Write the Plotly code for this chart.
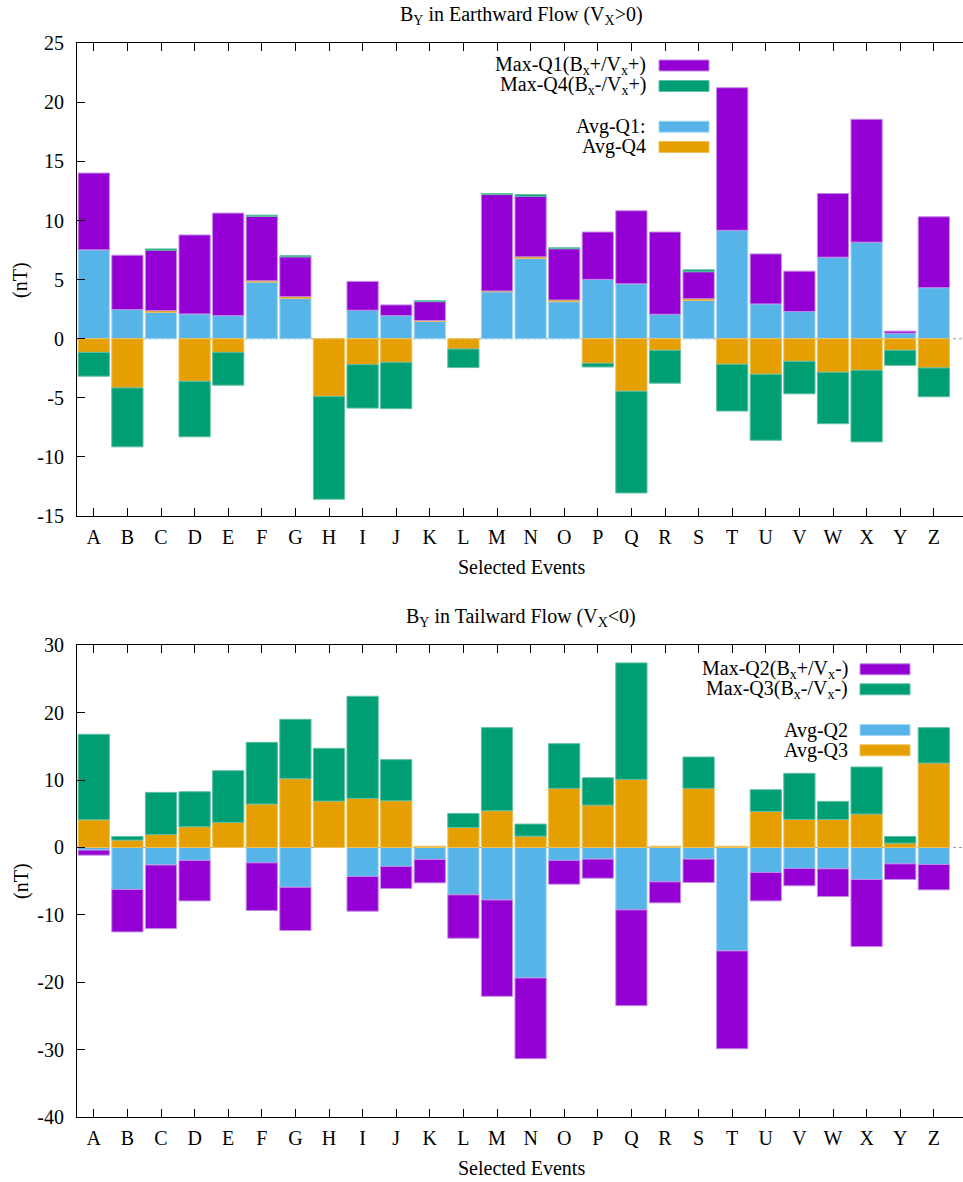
import plotly.graph_objects as go

W, H = 963, 1182

events = list("ABCDEFGHIJKLMNOPQRSTUVWXYZ")

# Row-stacked segments (nT): averages sit on the zero line, the Max-* segments
# are stacked on top of / below them.

# ---- B_Y in Earthward flow (Vx > 0) ----
avg_q1 = [7.52, 2.47, 2.24, 2.10, 1.96, 4.80, 3.42, 0.00, 2.41, 1.96, 1.46, 0.00, 3.98,
          6.79, 3.14, 5.02, 4.65, 2.07, 3.25, 9.17, 2.95, 2.30, 6.90, 8.17, 0.47, 4.32]
avg_q4 = [-1.15, -4.16, 0.14, -3.60, -1.15, 0.11, 0.14, -4.88, -2.19, -2.00, 0.08, -0.87, 0.06,
          0.14, 0.14, -2.08, -4.44, -0.98, 0.14, -2.16, -3.00, -1.91, -2.84, -2.67, -0.98, -2.47]
max_q1 = [6.50, 4.60, 5.11, 6.68, 8.67, 5.44, 3.37, 0.00, 2.44, 0.90, 1.60, 0.00, 8.16,
          5.13, 4.34, 4.01, 6.18, 6.96, 2.28, 12.07, 4.23, 3.42, 5.39, 10.40, 0.17, 6.00]
max_q4 = [-2.02, -4.99, 0.11, -4.70, -2.78, 0.11, 0.10, -8.70, -3.68, -3.92, 0.08, -1.57, 0.09,
          0.14, 0.08, -0.31, -8.61, -2.78, 0.16, -3.96, -5.59, -2.75, -4.35, -6.06, -1.27, -2.44]

# ---- B_Y in Tailward flow (Vx < 0) ----
avg_q2 = [-0.40, -6.24, -2.60, -1.93, 0.00, -2.28, -5.90, 0.00, -4.31, -2.82, -1.78, -7.03, -7.78,
          -19.37, -1.93, -1.73, -9.26, -5.10, -1.73, -15.35, -3.71, -3.12, -3.17, -4.75, -2.43, -2.53]
avg_q3 = [4.11, 1.09, 1.93, 3.07, 3.71, 6.44, 10.20, 6.88, 7.28, 6.93, 0.18, 2.97, 5.45,
          1.68, 8.77, 6.29, 10.10, 0.18, 8.77, 0.18, 5.35, 4.16, 4.16, 4.95, 0.64, 12.53]
max_q2 = [-0.74, -6.29, -9.44, -6.00, 0.00, -7.08, -6.43, 0.00, -5.15, -3.27, -3.47, -6.44, -14.31,
          -11.98, -3.52, -2.83, -14.22, -3.12, -3.47, -14.52, -4.22, -2.57, -4.11, -9.96, -2.32, -3.76]
max_q3 = [12.68, 0.54, 6.24, 5.20, 7.68, 9.16, 8.82, 7.83, 15.16, 6.10, 0.00, 2.08, 12.33,
          1.79, 6.63, 4.06, 17.29, 0.00, 4.65, 0.00, 3.22, 6.84, 2.68, 6.99, 0.99, 5.25]

# axis ticks
top_ticks = [-15, -10, -5, 0, 5, 10, 15, 20, 25]
bot_ticks = [-40, -30, -20, -10, 0, 10, 20, 30]

PURPLE, GREEN, BLUE, ORANGE = "#9400D3", "#009E73", "#56B4E9", "#E69F00"
EDGE = {PURPLE: "#c28ae6", GREEN: "#5fbfa3", BLUE: "#a8d8f3", ORANGE: "#eec25a"}
FONT = "Liberation Serif, Times New Roman, serif"
FS = 20


def px(x):
    return x / W


def py(y):
    return 1 - y / H


fig = go.Figure()


def bars(vals, color, xa, ya):
    # empty entries get no outline, so nothing is drawn for them
    widths = [0 if v == 0 else 1 for v in vals]
    fig.add_trace(go.Bar(
        x=events, y=vals, width=0.93, xaxis=xa, yaxis=ya,
        marker=dict(color=color, line=dict(color=EDGE[color], width=widths)),
        showlegend=False, hoverinfo="skip"))


# Earthward panel
bars(avg_q1, BLUE, "x", "y")
bars(avg_q4, ORANGE, "x", "y")
bars(max_q1, PURPLE, "x", "y")
bars(max_q4, GREEN, "x", "y")

# Tailward panel
bars(avg_q2, BLUE, "x2", "y2")
bars(avg_q3, ORANGE, "x2", "y2")
bars(max_q2, PURPLE, "x2", "y2")
bars(max_q3, GREEN, "x2", "y2")

x_left, x_right = 77, 963
top_y0, top_y1 = 43.3, 516.0
bot_y0, bot_y1 = 645.3, 1117.0
xrange = [-0.5, -0.5 + (x_right - x_left) / 33.6]

xcommon = dict(
    type="category", categoryorder="array", categoryarray=events, range=xrange,
    domain=[px(x_left), px(x_right)], showline=True, linecolor="black", linewidth=1,
    mirror="ticks", ticks="inside", ticklen=8, tickcolor="black", tickwidth=1,
    showgrid=False, zeroline=False, ticklabelstandoff=3, automargin=False,
    tickfont=dict(family=FONT, size=FS, color="black"))

ycommon = dict(
    showline=True, linecolor="black", linewidth=1, ticks="inside", ticklen=8,
    tickcolor="black", tickwidth=1, showgrid=False, zeroline=False, automargin=False,
    ticklabelstandoff=8, tickfont=dict(family=FONT, size=FS, color="black"))

rcommon = dict(side="right", ticks="inside", ticklen=8, tickcolor="black", tickwidth=1,
               showticklabels=False, showline=False, showgrid=False, zeroline=False,
               automargin=False)

fig.update_layout(
    width=W, height=H, margin=dict(l=0, r=0, t=0, b=0, pad=0, autoexpand=False),
    paper_bgcolor="white", plot_bgcolor="white", barmode="relative",
    showlegend=False,
    xaxis=dict(anchor="y", **xcommon),
    xaxis2=dict(anchor="y2", **xcommon),
    yaxis=dict(anchor="x", domain=[py(top_y1), py(top_y0)], range=[-15, 25],
               tickvals=top_ticks, ticktext=[str(t) for t in top_ticks], **ycommon),
    yaxis2=dict(anchor="x2", domain=[py(bot_y1), py(bot_y0)], range=[-40, 30],
                tickvals=bot_ticks, ticktext=[str(t) for t in bot_ticks], **ycommon),
    yaxis3=dict(overlaying="y", anchor="x", range=[-15, 25], tickvals=top_ticks, **rcommon),
    yaxis4=dict(overlaying="y2", anchor="x2", range=[-40, 30], tickvals=bot_ticks, **rcommon),
)

shapes = []
annotations = []

# dotted zero axis behind the bars
for xr, yr in (("x domain", "y"), ("x2 domain", "y2")):
    shapes.append(dict(type="line", xref=xr, yref=yr, x0=0, x1=1, y0=0, y1=0,
                       line=dict(color="#9a9a9a", width=1, dash="dot"), layer="below"))


def text(x, y, s, anchor="center", angle=0):
    annotations.append(dict(x=px(x), y=py(y), xref="paper", yref="paper", text=s,
                            showarrow=False, xanchor=anchor, yanchor="middle",
                            textangle=angle, font=dict(family=FONT, size=FS, color="black")))


# panel titles and axis titles
text(521, 16, "B<sub>Y</sub> in Earthward Flow (V<sub>X</sub>&gt;0)")
text(521, 617, "B<sub>Y</sub> in Tailward Flow (V<sub>X</sub>&lt;0)")
text(521.5, 567, "Selected Events")
text(521.5, 1168, "Selected Events")
text(21, 280, "(nT)", angle=-90)
text(21, 881, "(nT)", angle=-90)

# keys
top_key = [("Max-Q1(B<sub>x</sub>+/V<sub>x</sub>+)", PURPLE, 65.5),
           ("Max-Q4(B<sub>x</sub>-/V<sub>x</sub>+)", GREEN, 86.0),
           ("Avg-Q1:", BLUE, 126.7),
           ("Avg-Q4", ORANGE, 147.0)]
bot_key = [("Max-Q2(B<sub>x</sub>+/V<sub>x</sub>-)", PURPLE, 669.3),
           ("Max-Q3(B<sub>x</sub>-/V<sub>x</sub>-)", GREEN, 689.3),
           ("Avg-Q2", BLUE, 730.0),
           ("Avg-Q3", ORANGE, 750.3)]

for entries, tx, sx0, sx1 in ((top_key, 648, 659, 709), (bot_key, 850, 860, 910)):
    for label, color, yc in entries:
        text(tx, yc, label, anchor="right")
        shapes.append(dict(type="rect", xref="paper", yref="paper",
                           x0=px(sx0), x1=px(sx1), y0=py(yc + 5.5), y1=py(yc - 5.5),
                           fillcolor=color, line=dict(color=EDGE[color], width=1)))

fig.update_layout(shapes=shapes, annotations=annotations)

fig.write_html("out.html")
